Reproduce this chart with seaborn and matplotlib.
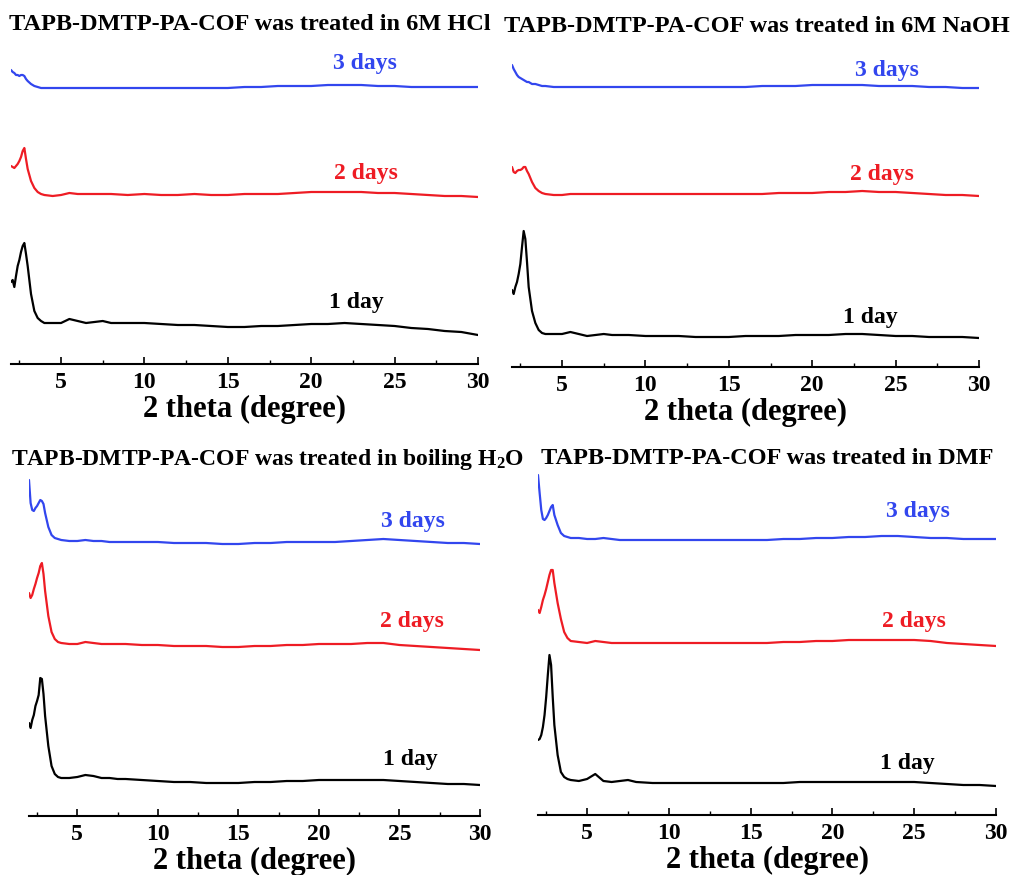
import matplotlib
matplotlib.use("Agg")
import matplotlib.pyplot as plt
from matplotlib.ticker import MultipleLocator
import seaborn as sns
import pandas as pd

# 2-theta grid (degrees) shared by every pattern
two_theta = [2.0, 2.1, 2.2, 2.3, 2.4, 2.5, 2.6, 2.7, 2.8, 2.9, 3.0, 3.2, 3.4, 3.6, 3.8,
             4.0, 4.5, 5.0, 5.5, 6.0, 6.5, 7.0, 7.5, 8, 9, 10, 11, 12, 13, 14, 15, 16,
             17, 18, 19, 20, 21, 22, 23, 24, 25, 26, 27, 28, 29, 30]

# Stacked intensities (a.u.) -- 6M HCl
hcl_1day = [82, 84, 77, 88, 98, 104, 112, 118, 121, 110, 98, 70, 53, 46, 43,
            41, 41, 41, 45, 43, 41, 42, 43, 41, 41, 41, 40, 39, 39, 38, 37, 37,
            38, 38, 39, 40, 40, 41, 40, 39, 38, 36, 35, 33, 32, 29]
hcl_2day = [198, 197, 196, 198, 200, 203, 207, 213, 216, 205, 195, 183, 176, 172, 170,
            169, 168, 169, 171, 170, 170, 170, 170, 170, 169, 170, 169, 169, 170, 169, 169, 170,
            170, 170, 171, 172, 172, 172, 172, 171, 171, 170, 169, 168, 168, 167]
hcl_3day = [294, 292, 291, 289, 289, 288, 289, 289, 288, 285, 283, 280, 278, 277, 276,
            276, 276, 276, 276, 276, 276, 276, 276, 276, 276, 276, 276, 276, 276, 276, 276, 277,
            277, 278, 278, 278, 279, 279, 279, 278, 278, 277, 277, 277, 277, 277]

# 6M NaOH
naoh_1day = [77, 73, 80, 85, 93, 103, 120, 136, 128, 105, 80, 56, 44, 37, 34,
             33, 33, 33, 35, 33, 31, 32, 33, 32, 32, 31, 31, 31, 30, 30, 30, 31,
             31, 31, 32, 32, 32, 33, 33, 32, 31, 31, 30, 30, 30, 29]
naoh_2day = [200, 195, 194, 196, 197, 197, 198, 200, 200, 196, 193, 185, 179, 176, 174,
             173, 172, 172, 173, 173, 173, 173, 173, 173, 173, 173, 173, 173, 173, 173, 173, 173,
             173, 174, 174, 174, 175, 175, 176, 175, 175, 174, 173, 172, 172, 171]
naoh_3day = [302, 298, 295, 292, 290, 289, 288, 287, 286, 285, 285, 283, 283, 282, 281,
             281, 280, 280, 280, 280, 280, 280, 280, 280, 280, 280, 280, 280, 280, 280, 280, 280,
             281, 281, 281, 282, 282, 282, 282, 281, 281, 281, 280, 280, 279, 279]

# boiling water
h2o_1day = [93, 88, 96, 101, 110, 115, 121, 138, 137, 122, 100, 70, 50, 42, 39,
            38, 38, 39, 41, 40, 38, 38, 37, 37, 36, 35, 34, 34, 33, 33, 33, 34,
            34, 35, 35, 36, 36, 36, 36, 36, 35, 34, 33, 32, 32, 31]
h2o_2day = [223, 218, 221, 227, 232, 238, 243, 250, 253, 242, 225, 200, 184, 177, 174,
            173, 172, 172, 174, 173, 172, 172, 172, 172, 171, 171, 170, 170, 170, 169, 169, 170,
            170, 171, 171, 172, 172, 172, 173, 173, 171, 170, 169, 168, 167, 166]
h2o_3day = [336, 313, 306, 305, 308, 310, 313, 316, 315, 312, 303, 289, 281, 278, 277,
            276, 275, 275, 276, 275, 275, 274, 274, 274, 274, 274, 273, 273, 273, 272, 272, 273,
            273, 274, 274, 274, 274, 275, 276, 277, 276, 275, 274, 273, 273, 272]

# DMF
dmf_1day = [75, 76, 80, 88, 100, 118, 140, 160, 150, 118, 90, 60, 43, 38, 36,
            35, 34, 36, 41, 34, 33, 34, 35, 33, 32, 32, 32, 32, 32, 32, 32, 32,
            32, 33, 33, 33, 33, 33, 33, 33, 33, 32, 31, 30, 30, 29]
dmf_2day = [205, 202, 208, 215, 220, 226, 233, 240, 245, 245, 232, 212, 196, 183, 177,
            174, 173, 172, 174, 173, 172, 172, 172, 172, 172, 172, 172, 172, 172, 172, 172, 172,
            173, 173, 174, 174, 175, 175, 175, 175, 175, 174, 172, 171, 170, 169]
dmf_3day = [340, 322, 305, 296, 295, 297, 300, 304, 308, 310, 300, 290, 282, 279, 278,
            277, 277, 276, 276, 277, 276, 275, 275, 275, 275, 275, 275, 275, 275, 275, 275, 275,
            276, 276, 277, 277, 278, 278, 279, 279, 278, 277, 277, 276, 276, 276]

day_labels = ["1 day", "2 days", "3 days"]
titles = ["TAPB-DMTP-PA-COF was treated in 6M HCl",
          "TAPB-DMTP-PA-COF was treated in 6M NaOH",
          "TAPB-DMTP-PA-COF was treated in boiling H$_2$O",
          "TAPB-DMTP-PA-COF was treated in DMF"]

sns.set_style("white")
plt.rcParams["font.family"] = ["Liberation Serif", "DejaVu Serif"]
plt.rcParams["font.weight"] = "bold"
plt.rcParams["text.color"] = "black"
plt.rcParams["axes.labelcolor"] = "black"
plt.rcParams["xtick.color"] = "black"
plt.rcParams["mathtext.fontset"] = "custom"
plt.rcParams["mathtext.rm"] = "Liberation Serif:bold"
plt.rcParams["mathtext.it"] = "Liberation Serif:bold"
plt.rcParams["mathtext.bf"] = "Liberation Serif:bold"
plt.rcParams["mathtext.default"] = "rm"

W, H = 1011, 875
fig = plt.figure(figsize=(W / 100, H / 100), dpi=100)
fig.patch.set_facecolor("white")

colors = ["#000000", "#ee1c24", "#3246ee"]

panels = [
    dict(series=[hcl_1day, hcl_2day, hcl_3day], px=(11, 478), axis_y=364, top=40,
         label_xy=[(22.7, 62), (23.3, 191), (23.2, 301)], title_xy=(250, 24), tsize=17.5),
    dict(series=[naoh_1day, naoh_2day, naoh_3day], px=(512, 979), axis_y=367, top=40,
         label_xy=[(23.5, 50), (24.2, 193), (24.5, 297)], title_xy=(757, 26), tsize=17.5),
    dict(series=[h2o_1day, h2o_2day, h2o_3day], px=(29, 480), axis_y=816, top=470,
         label_xy=[(25.7, 57), (25.8, 194), (25.85, 294)], title_xy=(268, 459), tsize=17),
    dict(series=[dmf_1day, dmf_2day, dmf_3day], px=(538, 996), axis_y=815, top=470,
         label_xy=[(24.6, 52), (25.0, 194), (25.2, 303)], title_xy=(767, 459), tsize=17.5),
]

for p, title in zip(panels, titles):
    x0, x1 = p["px"]
    ax = fig.add_axes([x0 / W, (H - p["axis_y"]) / H, (x1 - x0) / W,
                       (p["axis_y"] - p["top"]) / H])
    ax.set_facecolor("none")
    frames = []
    for lab, vals in zip(day_labels, p["series"]):
        frames.append(pd.DataFrame({"two_theta": two_theta, "intensity": vals, "sample": lab}))
    df = pd.concat(frames, ignore_index=True)
    sns.lineplot(data=df, x="two_theta", y="intensity", hue="sample",
                 palette=dict(zip(day_labels, colors)), sort=False, lw=1.6,
                 legend=False, ax=ax)
    for (lx, ly), lab, c in zip(p["label_xy"], day_labels, colors):
        ax.text(lx, ly, lab, color=c, fontsize=17, fontweight="bold",
                ha="center", va="center")
    ax.set_xlim(2, 30)
    ax.set_ylim(0, p["axis_y"] - p["top"])
    for s in ["left", "right", "top"]:
        ax.spines[s].set_visible(False)
    ax.spines["bottom"].set_linewidth(1.5)
    ax.spines["bottom"].set_color("black")
    ax.xaxis.set_major_locator(MultipleLocator(5))
    ax.xaxis.set_minor_locator(MultipleLocator(2.5))
    ax.tick_params(axis="x", which="major", direction="in", length=5, width=1.2,
                   labelsize=17, pad=6, bottom=True)
    ax.tick_params(axis="x", which="minor", direction="in", length=3, width=1.0,
                   bottom=True)
    ax.set_yticks([])
    ax.set_ylabel("")
    ax.set_xlabel("2 theta (degree)", fontsize=22, fontweight="bold", labelpad=1)
    fig.text(p["title_xy"][0] / W, 1 - p["title_xy"][1] / H, title,
             fontsize=p["tsize"], fontweight="bold", ha="center", va="center")

fig.savefig("out.png", dpi=100, facecolor="white")
